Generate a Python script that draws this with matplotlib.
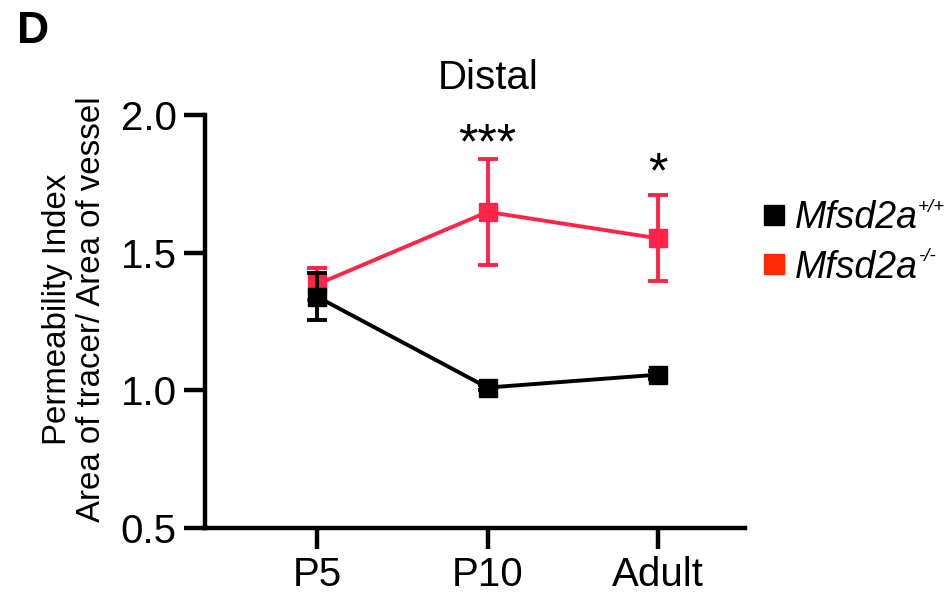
import matplotlib
matplotlib.use("Agg")
import matplotlib.pyplot as plt
from matplotlib.lines import Line2D

plt.rcParams['font.family'] = ['Liberation Sans', 'DejaVu Sans']

categories = ["P5", "P10", "Adult"]
wt_mean = [1.34, 1.01, 1.057]
wt_err = [0.085, 0.01, 0.015]
ko_mean = [1.385, 1.648, 1.552]
ko_err = [0.058, 0.193, 0.156]
stars = ["", "***", "*"]
star_y = [None, 1.89, 1.785]
legend_names = ["Mfsd2a", "Mfsd2a"]
legend_sups = ["+/+", "-/-"]

black = "#000000"
red_line = "#FF2448"
red_legend = "#FF2A00"

fig = plt.figure(figsize=(9.49, 5.98), dpi=100)
ax = fig.add_axes([204.5 / 949, 1 - 528 / 598, (745 - 204.5) / 949, (528 - 115) / 598])

x = list(range(1, len(categories) + 1))
ax.errorbar(x, ko_mean, yerr=ko_err, color=red_line, lw=2.8, marker='s', ms=12.5,
            capsize=7, capthick=2.8, elinewidth=2.8, zorder=3)
ax.errorbar(x, wt_mean, yerr=wt_err, color=black, lw=2.8, marker='s', ms=12.5,
            capsize=7, capthick=2.8, elinewidth=2.8, zorder=4)

for xi, s, sy in zip(x, stars, star_y):
    if s:
        ax.text(xi, sy, s, ha='center', va='center', fontsize=36)

ax.set_xlim(0.34, 3.51)
ax.set_ylim(0.5, 2.0)
ax.set_xticks(x)
ax.set_xticklabels(categories)
ax.set_yticks([0.5, 1.0, 1.5, 2.0])
ax.set_yticklabels(["0.5", "1.0", "1.5", "2.0"])
for sp in ['top', 'right']:
    ax.spines[sp].set_visible(False)
for sp in ['left', 'bottom']:
    ax.spines[sp].set_linewidth(3.2)
ax.tick_params(axis='both', length=15, width=3.2, labelsize=29, pad=5)
ax.set_ylabel("Permeability Index\nArea of tracer/ Area of vessel", fontsize=23.8,
              linespacing=1.15)
ax.yaxis.set_label_coords(-0.18, 0.53)

fig.text(488 / 949, 1 - 78 / 598, "Distal", fontsize=29, ha='center', va='center')

handles = [Line2D([], [], color=black, marker='s', ls='none', ms=15),
           Line2D([], [], color=red_legend, marker='s', ls='none', ms=15)]
leg = fig.legend(handles, legend_names, loc='center left',
                 bbox_to_anchor=(755 / 949, 1 - 243 / 598),
                 frameon=False, prop={'size': 27, 'style': 'italic'},
                 handletextpad=0.05, handlelength=1.0,
                 labelspacing=0.35, borderaxespad=0, borderpad=0)

fig.canvas.draw()
W, H = fig.bbox.width, fig.bbox.height
for t, sup in zip(leg.get_texts(), legend_sups):
    bb = t.get_window_extent()
    base = bb.y0 + 0.21 * 27 * 100 / 72
    cap_top = base + 0.716 * 27 * 100 / 72
    fig.text((bb.x1 + 0.5) / W, (cap_top + 3) / H, sup, fontsize=13.5, style='italic',
             ha='left', va='top')

fig.text(17 / 949, 1 - 43 / 598, "D", fontsize=32, fontweight='bold', ha='left', va='baseline')

fig.savefig("out.png", dpi=100)
